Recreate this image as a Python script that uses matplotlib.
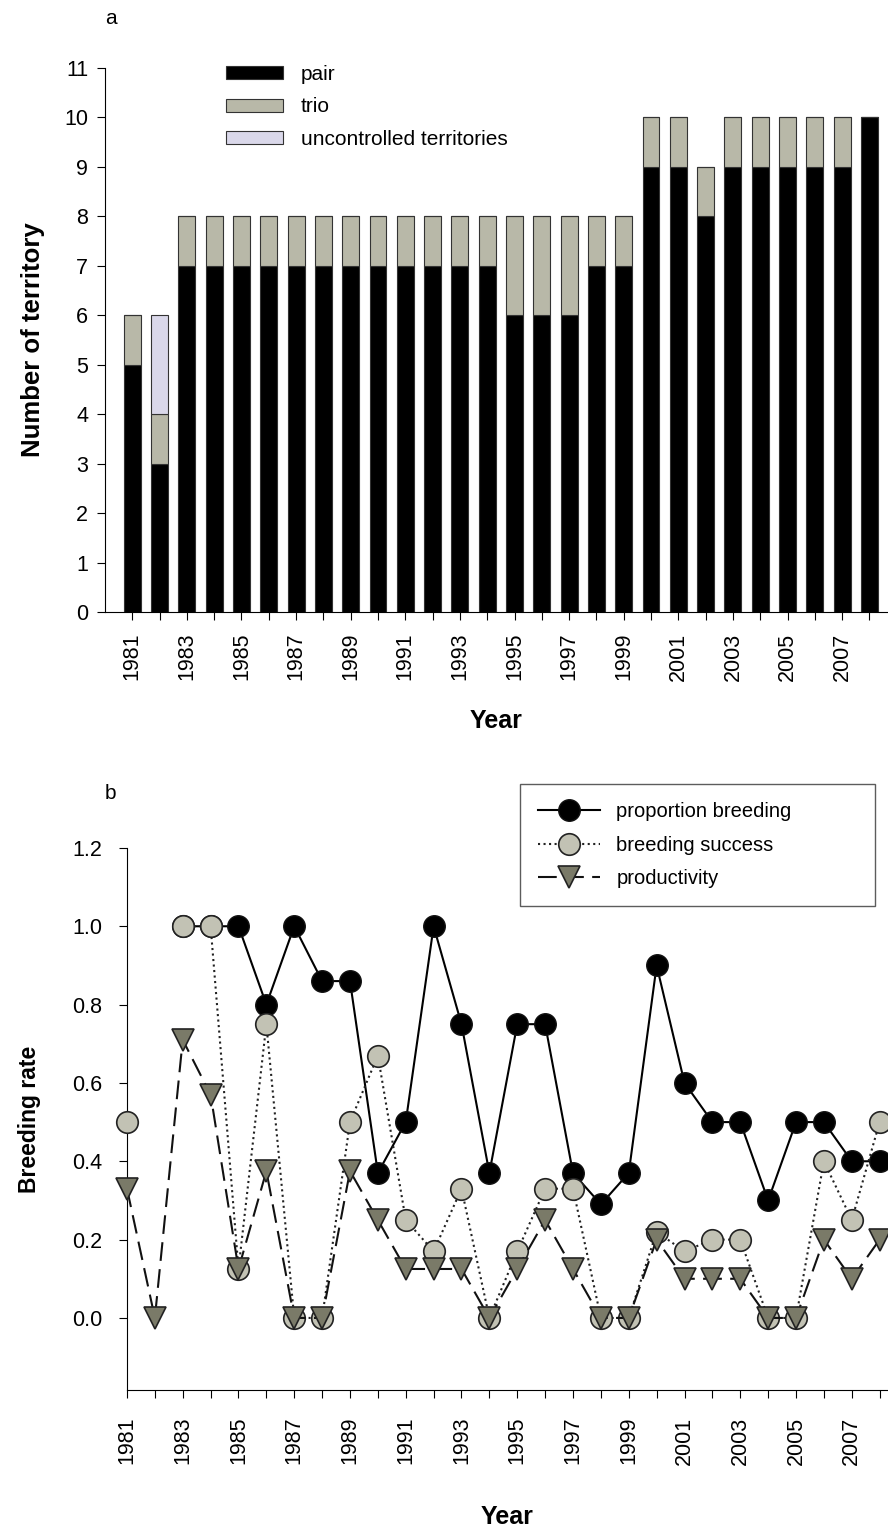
import numpy as np
import matplotlib.pyplot as plt

plt.rcParams['font.family'] = ['Liberation Sans', 'DejaVu Sans']

years = np.arange(1981, 2009)

# panel a: territories per year
pair = [5, 3, 7, 7, 7, 7, 7, 7, 7, 7, 7, 7, 7, 7, 6, 6, 6, 7, 7,
        9, 9, 8, 9, 9, 9, 9, 9, 10]
trio = [1, 1, 1, 1, 1, 1, 1, 1, 1, 1, 1, 1, 1, 1, 2, 2, 2, 1, 1,
        1, 1, 1, 1, 1, 1, 1, 1, 0]
uncontrolled = [0, 2, 0, 0, 0, 0, 0, 0, 0, 0, 0, 0, 0, 0, 0, 0, 0, 0, 0,
                0, 0, 0, 0, 0, 0, 0, 0, 0]

# panel b: breeding rates (nan = no data)
nan = np.nan
prop_breeding = [nan, nan, 1.0, 1.0, 1.0, 0.8, 1.0, 0.86, 0.86, 0.37, 0.5, 1.0,
                 0.75, 0.37, 0.75, 0.75, 0.37, 0.29, 0.37, 0.9, 0.6, 0.5,
                 0.5, 0.3, 0.5, 0.5, 0.4, 0.4]
breeding_success = [0.5, nan, 1.0, 1.0, 0.125, 0.75, 0.0, 0.0, 0.5, 0.67, 0.25,
                    0.17, 0.33, 0.0, 0.17, 0.33, 0.33, 0.0, 0.0, 0.22, 0.17,
                    0.2, 0.2, 0.0, 0.0, 0.4, 0.25, 0.5]
productivity = [0.33, 0.0, 0.71, 0.57, 0.125, 0.375, 0.0, 0.0, 0.375, 0.25,
                0.125, 0.125, 0.125, 0.0, 0.125, 0.25, 0.125, 0.0, 0.0, 0.2,
                0.1, 0.1, 0.1, 0.0, 0.0, 0.2, 0.1, 0.2]

fig = plt.figure(figsize=(8.88, 15.3), dpi=100)

c_trio = '#b8b8a8'
c_unc = '#dad8ea'
c_grey = '#c2c2b4'
c_tri = '#7a7a68'
tick_fs = 15.5

# ---- panel a
ax1 = fig.add_axes([0.1182, 0.6, 0.8818, 0.3556])
bw = 0.62
pair = np.array(pair)
trio = np.array(trio)
ax1.bar(years, pair, bw, color='black', edgecolor='#333333', linewidth=0.8, label='pair')
ax1.bar(years, trio, bw, bottom=pair, color=c_trio, edgecolor='#333333',
        linewidth=0.8, label='trio')
ax1.bar(years, uncontrolled, bw, bottom=pair + trio, color=c_unc,
        edgecolor='#333333', linewidth=0.8, label='uncontrolled territories')
ax1.set_xlim(1980.0, 2008.68)
ax1.set_ylim(0, 11)
ax1.set_yticks(range(0, 12))
ax1.set_xticks(years)
ax1.set_xticklabels([str(y) if y % 2 == 1 else '' for y in years], rotation=90)
ax1.spines['top'].set_visible(False)
ax1.spines['right'].set_visible(False)
ax1.tick_params(axis='both', direction='out', length=6, labelsize=tick_fs)
ax1.tick_params(axis='x', pad=9)
ax1.tick_params(axis='y', pad=6)
ax1.set_ylabel('Number of territory', fontsize=18.5, fontweight='bold', labelpad=14)
ax1.set_xlabel('Year', fontsize=18, fontweight='bold', labelpad=20)
ax1.legend(loc='upper left', bbox_to_anchor=(0.13, 1.04), frameon=False,
           fontsize=15, handlelength=2.75, handleheight=0.6,
           labelspacing=0.65, handletextpad=0.85)
fig.text(105 / 888, 1 - 18 / 1530, 'a', fontsize=15, va='center')

# ---- panel b
ax2 = fig.add_axes([0.143, 0.0915, 0.857, 0.3543])
ax2.plot(years, prop_breeding, '-', color='black', linewidth=1.5, marker='o',
         markersize=15.5, markerfacecolor='black', markeredgecolor='#111111',
         clip_on=False, zorder=3, label='proportion breeding')
ax2.plot(years, breeding_success, ':', color='#222222', linewidth=1.5, marker='o',
         markersize=15.5, markerfacecolor=c_grey, markeredgecolor='#222222',
         markeredgewidth=1.2, clip_on=False, zorder=4, label='breeding success')
ax2.plot(years, productivity, '--', color='#111111', linewidth=1.5, marker='v',
         markersize=16.5, markerfacecolor=c_tri, markeredgecolor='#222222',
         markeredgewidth=1.2, dashes=(9, 4), clip_on=False, zorder=5,
         label='productivity')
ax2.set_xlim(1981, 2008.3)
ax2.set_ylim(-0.184, 1.2)
ax2.set_yticks(np.arange(0, 1.21, 0.2))
ax2.set_yticklabels([f'{v:.1f}' for v in np.arange(0, 1.21, 0.2)])
ax2.set_xticks(years)
ax2.set_xticklabels([str(y) if y % 2 == 1 else '' for y in years], rotation=90)
ax2.spines['top'].set_visible(False)
ax2.spines['right'].set_visible(False)
ax2.tick_params(axis='both', direction='out', length=6, labelsize=tick_fs)
ax2.tick_params(axis='x', pad=13)
ax2.tick_params(axis='y', pad=12)
ax2.set_ylabel('Breeding rate', fontsize=16.5, fontweight='bold', labelpad=22)
ax2.set_xlabel('Year', fontsize=18, fontweight='bold', labelpad=29)
leg = ax2.legend(loc='upper left', bbox_to_anchor=(0.516, 0.0, 0.4665, 1.118),
                 mode='expand', frameon=True,
                 fancybox=False, edgecolor='#333333', fontsize=14.5,
                 handlelength=3.1, labelspacing=0.72, handletextpad=0.8,
                 borderpad=0.9, borderaxespad=0)
leg.get_frame().set_linewidth(1.0)
fig.text(105 / 888, 1 - 793 / 1530, 'b', fontsize=15, va='center')

fig.savefig('out.png', dpi=100)
